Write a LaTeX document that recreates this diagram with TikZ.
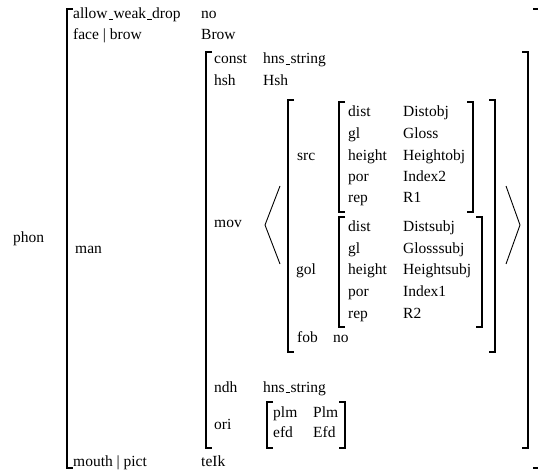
\documentclass[tikz,border=0pt]{standalone}
\usepackage{fontspec}
\setmainfont{Liberation Serif}
\newcommand\usc{\leavevmode\kern.06em\vbox{\hrule width.3em}\kern.02em}
\begin{document}
\begin{tikzpicture}[x=1pt,y=-1pt,
  t/.style={anchor=base west, inner sep=0pt, font=\fontsize{15.5}{18}\selectfont},
  brk/.style={line width=1.2pt},
  ang/.style={line width=0.9pt}]
\useasboundingbox (0,0) rectangle (538,470);
% outer
\draw[brk] (73,9) -- (67,9) -- (67,468) -- (73,468);
\draw[brk] (533,9) -- (541,9) -- (541,468) -- (533,468);
% level 2 (man)
\draw[brk] (212,52) -- (206,52) -- (206,448) -- (212,448);
\draw[brk] (522,52) -- (528,52) -- (528,448) -- (522,448);
% angle brackets
\draw[ang] (280,186) -- (265,225) -- (280,264);
\draw[ang] (506,186) -- (520,225) -- (506,264);
% level 3 (mov list element)
\draw[brk] (294,100) -- (288,100) -- (288,352) -- (294,352);
\draw[brk] (489,100) -- (495,100) -- (495,352) -- (489,352);
% src
\draw[brk] (345,102) -- (339,102) -- (339,212) -- (345,212);
\draw[brk] (467,102) -- (473,102) -- (473,212) -- (467,212);
% gol
\draw[brk] (345,217) -- (339,217) -- (339,327) -- (345,327);
\draw[brk] (476,217) -- (482,217) -- (482,327) -- (476,327);
% ori
\draw[brk] (273,402) -- (267,402) -- (267,448) -- (273,448);
\draw[brk] (339,402) -- (345,402) -- (345,448) -- (339,448);

% texts
\node[t] (phon) at (13,243) {phon};
\node[t] (awd) at (73,19) {allow\usc weak\usc drop};
\node[t] (awdv) at (201,19) {no};
\node[t] (face) at (73,40) {face | brow};
\node[t] (facev) at (201,40) {Brow};
\node[t] (man) at (75,254) {man};
\node[t] (mouth) at (73,466) {mouth | pict};
\node[t] (mouthv) at (201,466) {teIk};

\node[t] (const) at (214,64) {const};
\node[t] (constv) at (263,64) {hns\usc string};
\node[t] (hsh) at (214,86) {hsh};
\node[t] (hshv) at (263,86) {Hsh};
\node[t] (mov) at (214,228) {mov};
\node[t] (ndh) at (214,392) {ndh};
\node[t] (ndhv) at (263,392) {hns\usc string};
\node[t] (ori) at (214,429) {ori};
\node[t] (plm) at (273,417) {plm};
\node[t] (plmv) at (313,417) {Plm};
\node[t] (efd) at (273,437) {efd};
\node[t] (efdv) at (313,437) {Efd};

\node[t] (src) at (297,161) {src};
\node[t] (sdist) at (348,117) {dist};
\node[t] (sdistv) at (403,117) {Distobj};
\node[t] (sgl) at (348,139) {gl};
\node[t] (sglv) at (403,139) {Gloss};
\node[t] (sheight) at (348,161) {height};
\node[t] (sheightv) at (403,161) {Heightobj};
\node[t] (spor) at (348,182) {por};
\node[t] (sporv) at (403,182) {Index2};
\node[t] (srep) at (348,203) {rep};
\node[t] (srepv) at (403,203) {R1};

\node[t] (gol) at (296,275) {gol};
\node[t] (gdist) at (348,232) {dist};
\node[t] (gdistv) at (403,232) {Distsubj};
\node[t] (ggl) at (348,254) {gl};
\node[t] (gglv) at (403,254) {Glosssubj};
\node[t] (gheight) at (348,275) {height};
\node[t] (gheightv) at (403,275) {Heightsubj};
\node[t] (gpor) at (348,297) {por};
\node[t] (gporv) at (403,297) {Index1};
\node[t] (grep) at (348,318) {rep};
\node[t] (grepv) at (403,318) {R2};

\node[t] (fob) at (297,342) {fob};
\node[t] (fobv) at (333,342) {no};
\end{tikzpicture}
\end{document}
